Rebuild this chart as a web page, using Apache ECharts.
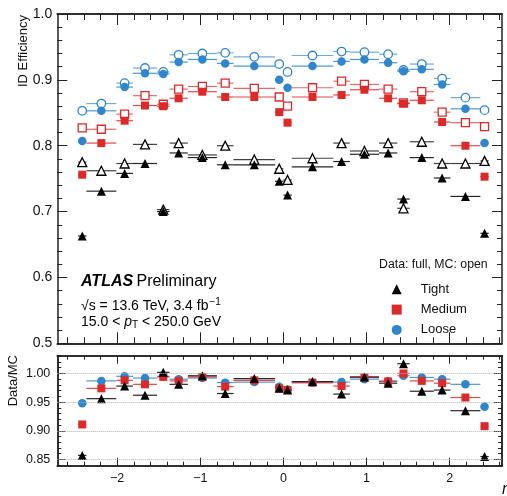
<!DOCTYPE html>
<html><head><meta charset="utf-8">
<script src="https://cdn.jsdelivr.net/npm/echarts@6/dist/echarts.min.js"></script>
<style>html,body{margin:0;padding:0;background:#fff}#c{width:507px;height:496px}</style>
</head><body><div id="c"></div>
<script>
// ---- data ----
const etaLo = [-2.47,-2.37,-2.01,-1.81,-1.52,-1.37,-1.15,-0.8,-0.6,-0.1,0,0.1,0.6,0.8,1.15,1.37,1.52,1.81,2.01,2.37];
const etaHi = [-2.37,-2.01,-1.81,-1.52,-1.37,-1.15,-0.8,-0.6,-0.1,0,0.1,0.6,0.8,1.15,1.37,1.52,1.81,2.01,2.37,2.47];
const etaCenter = [-2.42,-2.19,-1.91,-1.665,-1.445,-1.26,-0.975,-0.7,-0.35,-0.05,0.05,0.35,0.7,0.975,1.26,1.445,1.665,1.91,2.19,2.42];

const tightData  = [0.663,0.731,0.758,0.773,0.700,0.789,0.782,0.771,0.771,0.746,0.725,0.768,0.776,0.787,0.789,0.719,0.782,0.751,0.723,0.667];
const tightMC    = [0.775,0.762,0.773,0.802,0.703,0.804,0.786,0.800,0.779,0.765,0.748,0.781,0.804,0.792,0.804,0.705,0.806,0.773,0.773,0.777];
const mediumData = [0.756,0.804,0.838,0.861,0.860,0.872,0.882,0.874,0.874,0.851,0.835,0.874,0.877,0.885,0.872,0.864,0.869,0.836,0.800,0.753];
const mediumMC   = [0.827,0.825,0.848,0.876,0.863,0.886,0.890,0.895,0.887,0.874,0.860,0.888,0.898,0.893,0.886,0.865,0.882,0.851,0.835,0.829];
const looseData  = [0.807,0.853,0.889,0.910,0.909,0.927,0.931,0.925,0.921,0.900,0.888,0.921,0.928,0.931,0.926,0.913,0.916,0.893,0.856,0.804];
const looseMC    = [0.853,0.864,0.895,0.918,0.912,0.938,0.940,0.941,0.935,0.924,0.912,0.937,0.943,0.942,0.939,0.915,0.924,0.902,0.873,0.854];

const tightRatio  = [0.857,0.956,0.978,0.962,1.002,0.981,0.996,0.965,0.991,0.974,0.971,0.986,0.964,0.994,0.983,1.017,0.969,0.971,0.935,0.855];
const mediumRatio = [0.911,0.974,0.988,0.981,0.994,0.987,0.994,0.977,0.988,0.974,0.971,0.984,0.978,0.993,0.986,1.000,0.987,0.983,0.958,0.908];
const looseRatio  = [0.948,0.987,0.995,0.992,0.995,0.990,0.992,0.984,0.985,0.977,0.972,0.984,0.985,0.990,0.987,0.996,0.993,0.990,0.981,0.942];

// ---- ticks ----
const xMajor = [-2,-1,0,1,2];
const xMinor = [-2.6,-2.4,-2.2,-1.8,-1.6,-1.4,-1.2,-0.8,-0.6,-0.4,-0.2,0.2,0.4,0.6,0.8,1.2,1.4,1.6,1.8,2.2,2.4,2.6];
const ratioMajor = [0.85,0.90,0.95,1.00];
const ratioMinor = [0.84,0.86,0.87,0.88,0.89,0.91,0.92,0.93,0.94,0.96,0.97,0.98,0.99,1.01,1.02,1.03];

const FONT = "'Liberation Sans', Arial, Helvetica, sans-serif";
const BLUE = '#2f86cc', RED = '#dc2a2a', BLACK = '#000000';
const AX = '#222';
const X_MIN = -2.72, X_MAX = 2.63;

function xAx(grid, pos, ticks, len, showLabel) {
  return {type:'value', gridIndex:grid, position:pos, min:X_MIN, max:X_MAX,
    axisLine:{show:true, onZero:false, lineStyle:{color:AX, width:1.5}},
    axisTick:{show:true, inside:true, length:len, customValues:ticks, lineStyle:{color:AX, width:1}},
    axisLabel:{show:showLabel, customValues:ticks, margin:6, fontSize:12.5, fontFamily:FONT, color:'#111',
      formatter:v=>String(v).replace('-','\u2212')},
    splitLine:{show:false}};
}
function yRatio(pos, ticks, len, showLabel) {
  return {type:'value', gridIndex:1, position:pos, min:0.839, max:1.031,
    axisLine:{show:true, onZero:false, lineStyle:{color:AX, width:1.5}},
    axisTick:{show:true, inside:true, length:len, customValues:ticks, lineStyle:{color:AX, width:1}},
    axisLabel:{show:showLabel, customValues:ticks, margin:7, fontSize:12.5, fontFamily:FONT, color:'#111',
      formatter:v=>v.toFixed(2)},
    splitLine:{show:false}};
}
function yTop(pos, showLabel) {
  return {type:'value', gridIndex:0, position:pos, min:0.5, max:1.0, interval:0.1,
    axisLine:{show:true, onZero:false, lineStyle:{color:AX, width:1.5}},
    axisTick:{show:true, inside:true, length:10, lineStyle:{color:AX, width:1}},
    minorTick:{show:true, splitNumber:5, length:5, lineStyle:{color:AX, width:1}},
    axisLabel:{show:showLabel, margin:5, fontSize:14, fontFamily:FONT, color:'#111', formatter:v=>v.toFixed(1)},
    splitLine:{show:false}, minorSplitLine:{show:false}};
}

function bars(name, vals, color, xi, yi, opacity, extra) {
  return Object.assign({
    name:name, type:'custom', xAxisIndex:xi, yAxisIndex:yi, z:1, silent:true,
    data: etaLo.map((lo,i)=>[lo, etaHi[i], vals[i]]),
    encode:{x:[0,1], y:2},
    renderItem:function(params, api){
      const a = api.coord([api.value(0), api.value(2)]);
      const b = api.coord([api.value(1), api.value(2)]);
      return {type:'line', shape:{x1:a[0], y1:a[1], x2:b[0], y2:b[1]},
        style:{stroke:color, lineWidth:1.2, opacity:opacity}};
    }
  }, extra||{});
}
function pts(name, vals, color, symbol, size, open, xi, yi) {
  return {name:name, type:'scatter', xAxisIndex:xi, yAxisIndex:yi, z: open?2:3,
    symbol:symbol, symbolSize:size,
    data: etaCenter.map((x,i)=>[x, vals[i]]),
    itemStyle: open ? {color:'#ffffff', borderColor:color, borderWidth:1.3, opacity:1}
                    : {color:color, opacity:1},
    emphasis:{disabled:true}};
}

const series = [
  bars('Tight MC bars', tightMC, BLACK, 0, 0, 0.75),
  bars('Tight bars', tightData, BLACK, 0, 0, 0.85),
  bars('Medium MC bars', mediumMC, RED, 0, 0, 0.7),
  bars('Medium bars', mediumData, RED, 0, 0, 0.85),
  bars('Loose MC bars', looseMC, BLUE, 0, 0, 0.7),
  bars('Loose bars', looseData, BLUE, 0, 0, 0.85),
  pts('Tight MC', tightMC, BLACK, 'triangle', 9, true, 0, 0),
  pts('Medium MC', mediumMC, RED, 'rect', 8, true, 0, 0),
  pts('Loose MC', looseMC, BLUE, 'circle', 8.5, true, 0, 0),
  pts('Tight', tightData, BLACK, 'triangle', 9, false, 0, 0),
  pts('Medium', mediumData, RED, 'rect', 8, false, 0, 0),
  pts('Loose', looseData, BLUE, 'circle', 8.5, false, 0, 0),
  bars('Loose ratio bars', looseRatio, BLUE, 4, 2, 0.85, {markLine:{silent:true, symbol:'none', label:{show:false},
      lineStyle:{type:'dotted', color:'#b0b0b0', width:1}, data: ratioMajor.map(v=>({yAxis:v}))}}),
  bars('Medium ratio bars', mediumRatio, RED, 4, 2, 0.85),
  bars('Tight ratio bars', tightRatio, BLACK, 4, 2, 0.85),
  pts('Loose ratio', looseRatio, BLUE, 'circle', 8.5, false, 4, 2),
  pts('Medium ratio', mediumRatio, RED, 'rect', 8, false, 4, 2),
  pts('Tight ratio', tightRatio, BLACK, 'triangle', 9, false, 4, 2)
];

const chart = echarts.init(document.getElementById('c'), null, {renderer:'canvas'});
chart.setOption({
  animation:false,
  backgroundColor:'#ffffff',
  grid:[
    {left:57.3, right:5, top:14, height:329.3},
    {left:57.3, right:5, top:355.7, height:110}
  ],
  xAxis:[
    xAx(0,'bottom',xMajor,11,false), xAx(0,'bottom',xMinor,6,false),
    xAx(0,'top',xMajor,11,false),    xAx(0,'top',xMinor,6,false),
    xAx(1,'bottom',xMajor,8,true),   xAx(1,'bottom',xMinor,4,false),
    xAx(1,'top',xMajor,8,false),     xAx(1,'top',xMinor,4,false)
  ],
  yAxis:[
    yTop('left', true), yTop('right', false),
    yRatio('left', ratioMajor, 8, true), yRatio('left', ratioMinor, 4, false),
    yRatio('right', ratioMajor, 8, false), yRatio('right', ratioMinor, 4, false)
  ],
  legend:{
    data:['Tight','Medium','Loose'], orient:'vertical', left:386.7, top:277.3,
    itemWidth:10, itemHeight:10, itemGap:6.3, selectedMode:false,
    textStyle:{fontFamily:FONT, fontSize:13, color:'#111', lineHeight:14, padding:[0,0,0,14]}
  },
  graphic:[
    {type:'text', x:81, y:282, style:{text:'{b|ATLAS} {n|Preliminary}', textVerticalAlign:'middle',
      rich:{b:{fontFamily:FONT, fontSize:16, fontWeight:'bold', fontStyle:'italic', fill:'#000'},
            n:{fontFamily:FONT, fontSize:16, fill:'#000'}}}},
    {type:'text', x:81, y:306, style:{text:'{n|\u221As = 13.6 TeV, 3.4 fb}{s|\u22121}', textVerticalAlign:'middle',
      rich:{n:{fontFamily:FONT, fontSize:14, fill:'#000'}, s:{fontFamily:FONT, fontSize:10, fill:'#000', verticalAlign:'top', padding:[0,0,8,1]}}}},
    {type:'text', x:81, y:322, style:{text:'{n|15.0 < }{i|p}{t|T}{n| < 250.0 GeV}', textVerticalAlign:'middle',
      rich:{n:{fontFamily:FONT, fontSize:14, fill:'#000'}, i:{fontFamily:FONT, fontSize:14, fontStyle:'italic', fill:'#000'},
            t:{fontFamily:FONT, fontSize:10, fill:'#000', padding:[6,0,0,0]}}}},
    {type:'text', x:379, y:265, style:{text:'Data: full, MC: open', fontFamily:FONT, fontSize:12.3, fill:'#111', textVerticalAlign:'middle'}},
    {type:'text', x:23, y:15, rotation:Math.PI/2, style:{text:'ID Efficiency', fontFamily:FONT, fontSize:13, fill:'#111', textAlign:'right', textVerticalAlign:'middle'}},
    {type:'text', x:13, y:355, rotation:Math.PI/2, style:{text:'Data/MC', fontFamily:FONT, fontSize:13, fill:'#111', textAlign:'right', textVerticalAlign:'middle'}},
    {type:'text', x:502, y:482, style:{text:'\u03B7', fontFamily:FONT, fontSize:16, fontStyle:'italic', fill:'#111'}}
  ],
  series:series
});
</script>
</body></html>
